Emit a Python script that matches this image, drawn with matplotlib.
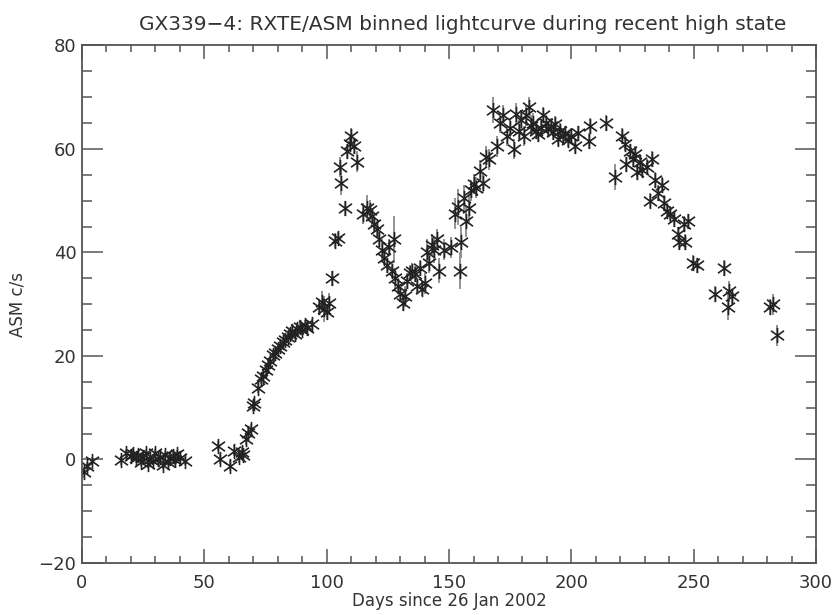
import matplotlib
matplotlib.use("Agg")
import matplotlib.pyplot as plt
from matplotlib.path import Path
from matplotlib.ticker import MultipleLocator

days = [1, 2, 4, 16, 18, 20, 21, 22, 23, 24, 25, 26, 27, 28, 29, 30, 31, 32, 33, 34,
        35, 36, 37, 38, 39, 40, 42,
        55.5, 56.5, 60.5, 62, 64, 65.5, 66, 67, 68, 69, 70, 70.5, 72, 73, 74, 75, 76, 77,
        78, 79, 80, 81, 82, 83, 84, 85, 86, 87, 88, 89, 90, 91, 92, 94,
        97, 98, 99, 100, 101, 102, 103.5, 104.5, 105.5, 106, 107.5, 108.5, 109.5, 110,
        111, 112.5,
        115, 116.5, 117.5, 118.5, 119.5, 120.5, 121.5, 122.5, 123.5, 124.5, 125.5, 126.5,
        127.5, 128, 129, 130, 131, 132, 133, 134, 135, 136, 137, 138, 139, 140, 141, 142,
        143, 144, 145, 146, 148, 151, 152.5, 153.5, 154.5, 155, 156, 157, 158, 159, 160,
        161, 162.5, 164, 165, 166.5, 168, 169.5, 171, 172, 173.5, 175, 176.5, 177.5,
        178.5, 179.5, 180.5, 181.5, 182.5, 183.5, 184.5, 185.5, 186.5, 187.5, 188.5,
        189.5, 190.5, 191.5, 192.5, 193.5, 194.5, 195.5, 196.5, 197.5, 198.5, 200,
        201.5, 202.5, 207, 207.5, 214, 218, 220.5, 222, 222.5, 224, 225, 226, 227, 228,
        229, 231, 232, 233, 234, 235.5, 237, 238, 239, 240.5, 242, 243.5, 244, 246,
        246.5, 247.5, 249.5, 251.5, 258.5, 262.5, 264, 264.5, 265.5, 281, 282.5, 284]

rate = [-2.5, -1.3, -0.3, -0.2, 1.2, 0.6, 1.1, 0.2, 0.8, -0.4, 0.5, 1.2, -0.8, 0.1,
        -0.3, 1.3, 0.0, 0.5, -1.0, 0.9, -0.4, 0.3, 0.7, -0.2, 1.0, 0.2, -0.3,
        2.6, 0.1, -1.2, 1.7, 0.4, 1.4, 0.8, 4.0, 5.2, 5.9, 10.4, 10.9, 13.8, 15.5, 16.2,
        17.2, 18.3, 19.0, 20.2, 20.6, 21.3, 22.0, 22.6, 23.0, 23.6, 24.2, 24.8, 24.3,
        25.3, 25.6, 25.1, 25.9, 25.4, 26.2,
        29.5, 30.5, 29.0, 28.5, 30.2, 35.0, 42.3, 42.8, 56.5, 53.5, 48.5, 59.5, 61.0,
        62.5, 60.5, 57.5,
        47.5, 48.5, 48.2, 47.0, 45.5, 44.5, 42.5, 40.5, 39.0, 37.5, 41.0, 36.5, 42.5,
        35.0, 33.5, 32.0, 30.2, 31.5, 34.5, 36.0, 36.5, 35.8, 33.5, 37.0, 33.0, 34.0,
        40.0, 38.0, 41.5, 40.5, 42.5, 36.5, 40.5, 41.0, 47.5, 48.8, 36.5, 42.0, 50.5,
        46.0, 48.5, 52.0, 53.2, 52.5, 55.8, 53.5, 58.5, 58.0, 67.5, 60.5, 65.0, 66.5,
        62.5, 64.0, 60.0, 66.8, 63.5, 65.5, 62.5, 66.5, 68.0, 64.5, 65.0, 63.5, 62.8,
        64.0, 66.5, 65.0, 63.8, 64.5, 63.2, 64.8, 62.0, 63.5, 62.5, 63.0, 61.8, 62.5,
        60.5, 63.0, 61.5, 64.5, 65.0, 54.5, 62.5, 61.0, 57.0, 59.5, 58.0, 59.0, 55.5,
        57.5, 56.0, 56.5, 50.0, 58.0, 54.0, 51.5, 53.0, 49.5, 48.0, 47.5, 46.5, 43.5,
        42.0, 45.5, 42.0, 46.0, 38.0, 37.5, 32.0, 37.0, 29.5, 32.5, 31.5, 29.5, 30.0,
        24.0]

err_low = [1.0, 0.8, 0.8] + [0.8] * 24
err_rise = [1.0] * 7 + [1.2, 1.2] + [1.0] * 25
err_peak = [1.5, 2.0, 2.5, 1.5, 2.0, 1.5, 1.5, 1.2, 2.0, 2.5, 1.5, 1.5, 1.5, 1.5, 1.5, 2.0]
err_dip = [2.0, 2.5, 2.0, 1.5, 1.5, 1.5, 1.5, 2.0, 1.5, 1.5, 1.5, 1.5, 4.5, 2.0, 1.5, 1.5,
           1.5, 2.0, 1.5, 1.5, 1.5, 1.5, 1.5, 1.5, 1.5, 2.0, 2.5, 2.0, 2.0, 2.5, 2.0, 2.5,
           2.0, 2.0, 3.0, 3.5, 3.5, 3.0, 2.5, 3.0, 3.0, 2.0, 2.0, 2.0, 2.0, 2.0, 2.0, 2.0,
           2.5, 2.0, 2.0, 2.0, 2.0, 2.0, 2.0, 2.0, 2.0, 2.0, 2.0, 2.0, 2.0, 2.0, 2.0]
err_decay = [1.5] * 15 + [1.5, 1.5, 1.5, 1.5, 1.5, 2.5] + [1.5] * 28 + \
            [2.5, 2.0, 1.5, 1.5, 2.0, 2.0]
err = err_low + err_rise + err_peak + err_dip + err_decay
err = (err + [1.5] * len(days))[:len(days)]

title = "GX339\u22124: RXTE/ASM binned lightcurve during recent high state"
xlabel = "Days since 26 Jan 2002"
ylabel = "ASM c/s"

plt.rcParams['font.family'] = ['DejaVu Sans']

fig = plt.figure(figsize=(8.39, 6.15), dpi=100)
ax = fig.add_axes([0.0977, 0.0846, 0.875, 0.8416])

star = Path([(0, -1), (0, 1), (-0.85, -0.62), (0.85, 0.62), (-0.85, 0.62), (0.85, -0.62)],
            [Path.MOVETO, Path.LINETO] * 3)

ax.errorbar(days, rate, yerr=err, fmt='none', ecolor='#8a8a8a', elinewidth=1.3, capsize=0)
ax.plot(days, rate, ls='none', marker=star, ms=11, mec='#222222', mfc='none', mew=1.2)

ax.set_xlim(0, 300)
ax.set_ylim(-20, 80)
ax.xaxis.set_major_locator(MultipleLocator(50))
ax.xaxis.set_minor_locator(MultipleLocator(10))
ax.yaxis.set_major_locator(MultipleLocator(20))
ax.yaxis.set_minor_locator(MultipleLocator(5))

ax.tick_params(which='both', direction='in', top=True, right=True, color='#555555',
               labelcolor='#333333', labelsize=13, width=1.1)
ax.tick_params(axis='x', which='major', length=10, pad=8)
ax.tick_params(axis='x', which='minor', length=5)
ax.tick_params(axis='y', which='major', length=15, pad=4)
ax.tick_params(axis='y', which='minor', length=7)
for s in ax.spines.values():
    s.set_color('#555555')
    s.set_linewidth(1.3)

ax.set_xlabel(xlabel, fontsize=12, color='#333333', labelpad=0)
ax.set_ylabel(ylabel, fontsize=12, color='#333333', labelpad=9)
fig.text(0.551, 0.975, title, ha='center', va='top', fontsize=14.5, color='#333333')

fig.savefig("out.png", dpi=100)
